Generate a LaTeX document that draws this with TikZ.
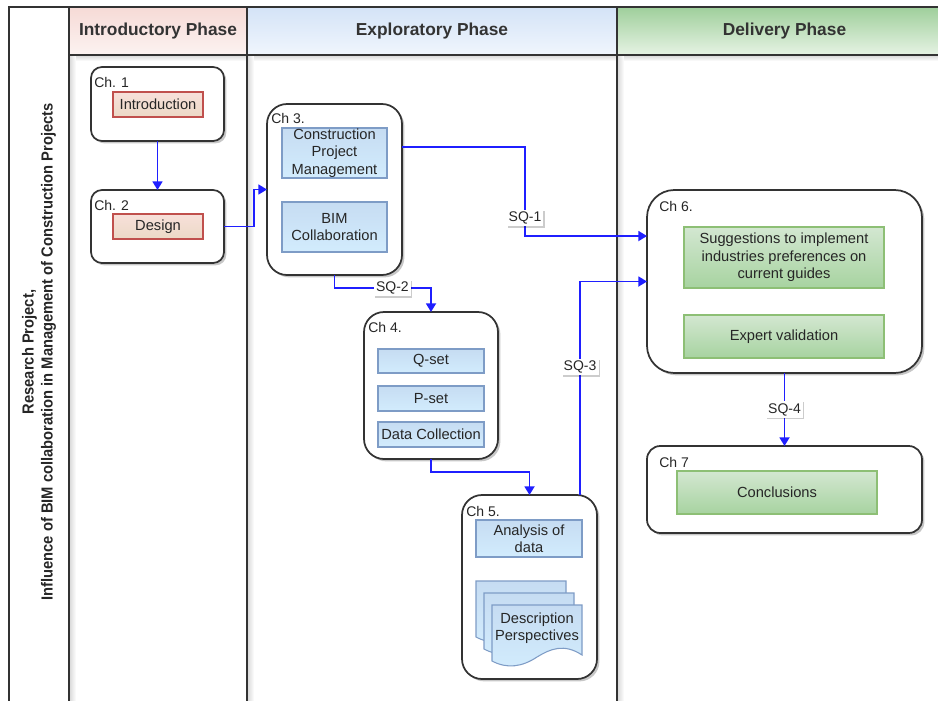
\documentclass[tikz,border=0pt]{standalone}
\usepackage{fontspec}
\setmainfont{Liberation Sans}
\newfontfamily\narrowfont[FakeStretch=0.92]{Liberation Sans}
\usetikzlibrary{arrows.meta,calc,shadows}

\definecolor{ink}{HTML}{262626}
\definecolor{frame}{HTML}{333333}
\definecolor{flowblue}{HTML}{1F1FFF}
\definecolor{hdrAtop}{HTML}{F6DAD6}
\definecolor{hdrAbot}{HTML}{FCF3F1}
\definecolor{hdrBtop}{HTML}{D4E3F7}
\definecolor{hdrBbot}{HTML}{F0F6FD}
\definecolor{hdrCtop}{HTML}{9FCF9B}
\definecolor{hdrCbot}{HTML}{E6F3E4}
\definecolor{redtop}{HTML}{F8E0DA}
\definecolor{redbot}{HTML}{EBD9C6}
\definecolor{rededge}{HTML}{C0504D}
\definecolor{bluetop}{HTML}{C6DCF2}
\definecolor{bluebot}{HTML}{D2ECFD}
\definecolor{blueedge}{HTML}{7E9CC6}
\definecolor{greentop}{HTML}{D3E7D1}
\definecolor{greenbot}{HTML}{A7D3A0}
\definecolor{greenedge}{HTML}{8DBF75}

\begin{document}
\begin{tikzpicture}[x=0.75pt,y=-0.75pt,
  sz/.style 2 args={minimum width=#1*0.75pt,minimum height=#2*0.75pt},
  txt/.style={font=\fontsize{11}{13}\selectfont, text=ink, align=center},
  lane/.style={draw=frame, line width=1.1pt},
  chapter/.style={draw=frame, line width=1.3pt, fill=white, inner sep=0pt, outer sep=0pt,
    drop shadow={shadow xshift=1.8pt, shadow yshift=-1.8pt, opacity=0.22, fill=black}},
  redbox/.style={txt, draw=rededge, line width=0.8pt, top color=redtop, bottom color=redbot, inner sep=0pt},
  bluebox/.style={txt, draw=blueedge, line width=0.8pt, top color=bluetop, bottom color=bluebot, inner sep=0pt},
  greenbox/.style={txt, draw=greenedge, line width=0.8pt, top color=greentop, bottom color=greenbot, inner sep=0pt},
  tag/.style={anchor=west, inner sep=0pt, font=\fontsize{10.5}{12}\selectfont, text=ink},
  header/.style={font=\bfseries\fontsize{13}{15}\selectfont, text=frame},
  flow/.style={draw=flowblue, line width=1.3pt, -{Triangle[length=6.5pt,width=7.5pt]}},
  lbl/.style={fill=white, inner sep=1.6pt, font=\fontsize{10.5}{12}\selectfont, text=ink,
    drop shadow={shadow xshift=1pt, shadow yshift=-1pt, opacity=0.2, fill=black}},
  docsheet/.style={draw=blueedge, line width=0.8pt, top color=bluetop, bottom color=bluebot},
  docpage/.pic={\path[docsheet] (0,0) -- (90,0) -- (90,50)
      .. controls (72,38) and (58,44) .. (45,52)
      .. controls (30,62) and (15,64) .. (0,56) -- cycle;}
]
\useasboundingbox (0,0) rectangle (938,700);
\clip (0,0) rectangle (938,700);
\fill[white] (0,0) rectangle (938,700);

% lane headers
\shade[top color=hdrAtop, bottom color=hdrAbot] (69,7) rectangle (247,55);
\shade[top color=hdrBtop, bottom color=hdrBbot] (247,7) rectangle (617,55);
\shade[top color=hdrCtop, bottom color=hdrCbot] (617,7) rectangle (952,55);

% soft shadows along the lane borders
\shade[left color=black!16, right color=white] (69,55) rectangle (76,700);
\shade[left color=black!16, right color=white] (247,55) rectangle (254,700);
\shade[left color=black!16, right color=white] (617,55) rectangle (624,700);
\shade[top color=black!16, bottom color=white] (76,55) rectangle (247,61);
\shade[top color=black!16, bottom color=white] (254,55) rectangle (617,61);
\shade[top color=black!16, bottom color=white] (624,55) rectangle (952,61);

% pool and lane borders
\draw[lane] (9,710) -- (9,7) -- (952,7);
\draw[lane] (69,7) -- (69,710);
\draw[lane] (247,7) -- (247,710);
\draw[lane] (617,7) -- (617,710);
\draw[lane] (69,55) -- (952,55);

\node[header] (hintro) at (158,31) {Introductory Phase};
\node[header] (hexpl) at (432,31) {Exploratory Phase};
\node[header] (hdeliv) at (784.5,31) {Delivery Phase};

\node[rotate=90, align=center, text=ink,
      font=\narrowfont\bfseries\fontsize{12}{14.3}\selectfont] (title) at (39,352)
  {Research Project,\\Influence of BIM collaboration in Management of Construction Projects};

% chapter containers
\node[chapter, sz={133}{74}, rounded corners=8.2pt] (ch1) at (157.5,104) {};
\node[chapter, sz={133}{73}, rounded corners=8.2pt] (ch2) at (157.5,226.5) {};
\node[chapter, sz={135}{171}, rounded corners=15pt] (ch3) at (334.5,189.5) {};
\node[chapter, sz={134}{147}, rounded corners=15pt] (ch4) at (431,385.5) {};
\node[chapter, sz={135}{184}, rounded corners=15pt] (ch5) at (529.5,587) {};
\node[chapter, sz={275}{183}, rounded corners=20.5pt] (ch6) at (784.5,281.5) {};
\node[chapter, sz={275}{87}, rounded corners=10pt] (ch7) at (784.5,489.5) {};

% chapter tags
\node[tag] (t1) at ($(ch1.north west)+(3,15)$) {Ch. 1};
\node[tag] (t2) at ($(ch2.north west)+(3,15)$) {Ch. 2};
\node[tag] (t3) at ($(ch3.north west)+(4,14)$) {Ch 3.};
\node[tag] (t4) at ($(ch4.north west)+(4,15)$) {Ch 4.};
\node[tag] (t5) at ($(ch5.north west)+(4,16)$) {Ch 5.};
\node[tag] (t6) at ($(ch6.north west)+(12,16)$) {Ch 6.};
\node[tag] (t7) at ($(ch7.north west)+(12,16)$) {Ch 7};

% chapter contents
\node[redbox, sz={90}{25}] (intro) at (158,104.5) {Introduction};
\node[redbox, sz={90}{25}] (design) at (158,226.5) {Design};
\node[bluebox, sz={105}{50}] (cpm) at (334.5,153) {Construction\\Project\\Management};
\node[bluebox, sz={105}{50}] (bim) at (334.5,227) {BIM\\Collaboration};
\node[bluebox, sz={106}{24}] (qset) at (431,361) {Q-set};
\node[bluebox, sz={106}{25}] (pset) at (431,398.5) {P-set};
\node[bluebox, sz={106}{25}] (datac) at (431,434.5) {Data Collection};
\node[bluebox, sz={106}{37}] (analysis) at (529,538.5) {Analysis of\\data};
\pic at (476,581) {docpage};
\pic at (484,593) {docpage};
\pic at (492,605) {docpage};
\node[txt] (desc) at (537,628) {Description\\Perspectives};
\node[greenbox, sz={200}{61}] (sugg) at (784,257.5) {Suggestions to implement\\industries preferences on\\current guides};
\node[greenbox, sz={200}{43}] (expert) at (784,336.5) {Expert validation};
\node[greenbox, sz={200}{43}] (concl) at (777,492.5) {Conclusions};

% flow between chapters
\draw[flow] (ch1.south) -- (ch2.north);
\draw[flow] (ch2.east) -- ++(30,0) |- (ch3.west);
\draw[flow] ([yshift=31.9pt]ch3.east) -| (525,200)
  -- node[lbl] (sq1) {SQ-1} (525,236) -- ([yshift=34.1pt]ch6.west);
\draw[flow] (ch3.south) -- ++(0,13) -| node[lbl, pos=0.3] (sq2) {SQ-2} (ch4.north);
\draw[flow] (ch4.south) -- ++(0,13) -| (ch5.north);
\draw[flow] ([xshift=37.9pt]ch5.north) |- node[lbl, pos=0.3] (sq3) {SQ-3} (ch6.west);
\draw[flow] (ch6.south) -- node[lbl] (sq4) {SQ-4} (ch7.north);
\end{tikzpicture}
\end{document}
